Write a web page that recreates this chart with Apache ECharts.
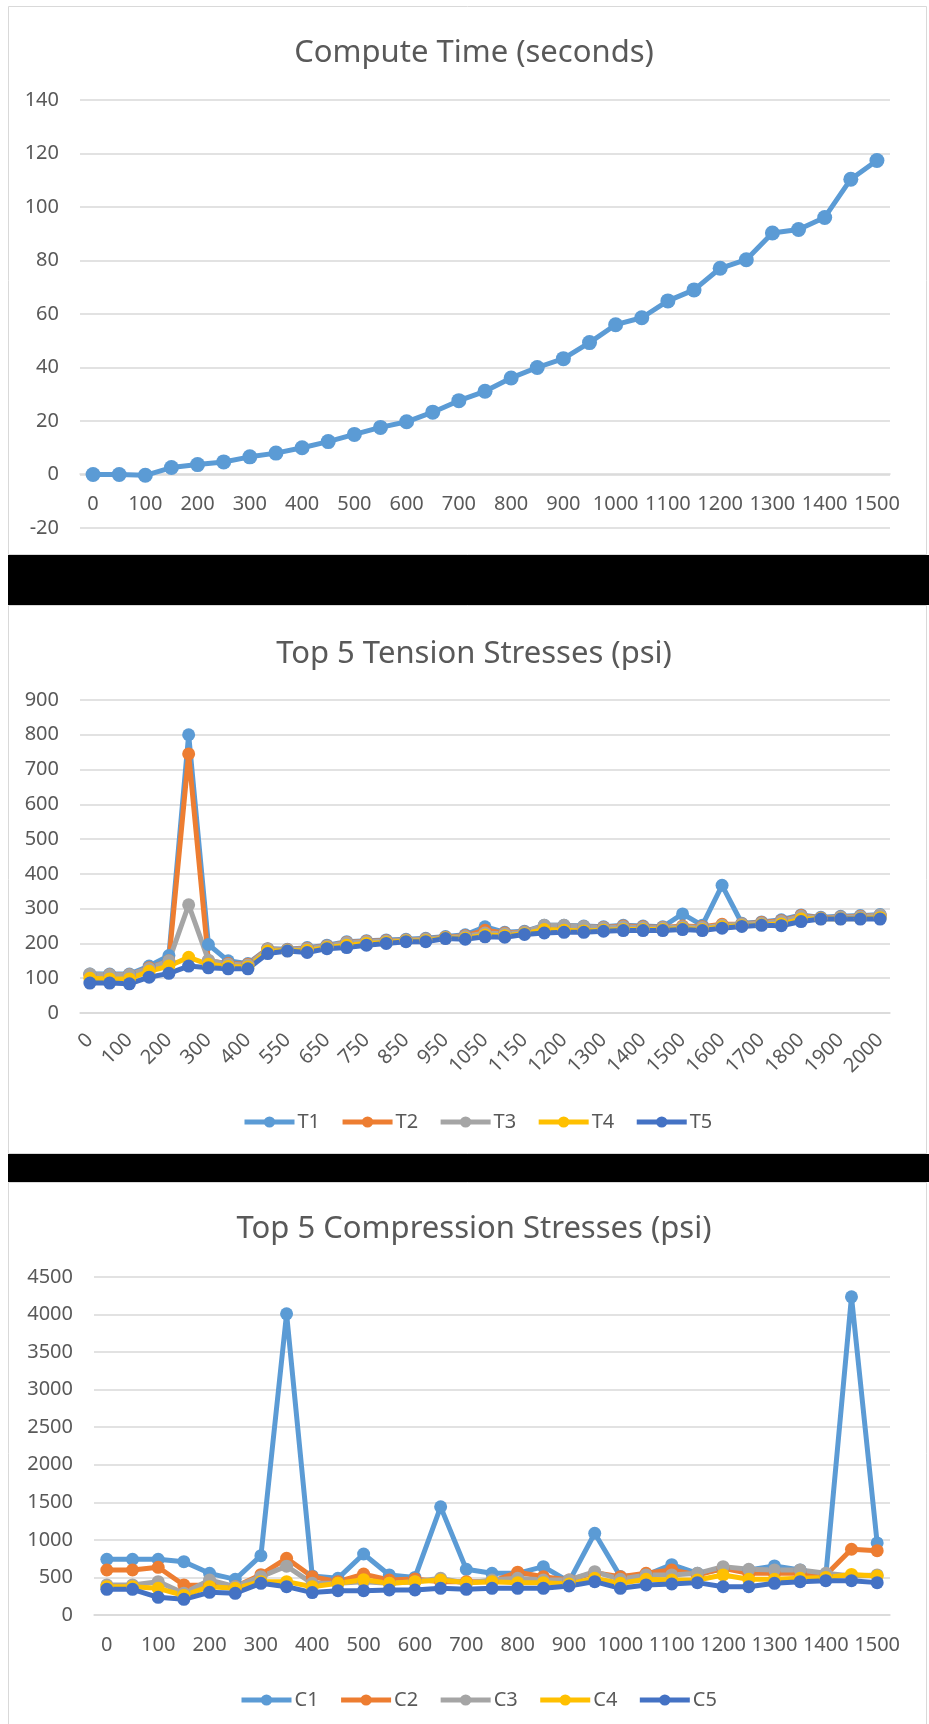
<!DOCTYPE html>
<html>
<head>
<meta charset="utf-8">
<script src="https://cdn.jsdelivr.net/npm/echarts@6.0.0/dist/echarts.min.js"></script>
<style>
  html, body { margin: 0; padding: 0; background: #fff; }
  #chart { width: 929px; height: 1724px; }
</style>
</head>
<body>
<div id="chart"></div>
<script>
// --- data ---

// chart 1: compute time
const computeSteps = ['0','50','100','150','200','250','300','350','400','450','500','550','600','650','700','750',
  '800','850','900','950','1000','1050','1100','1150','1200','1250','1300','1350','1400','1450','1500']
const computeTime = [0, 0, -0.3, 2.6, 3.7, 4.7, 6.6, 8, 10, 12.3, 15, 17.6, 19.7, 23.3, 27.6, 31.1,
  36.1, 40, 43.3, 49.3, 56, 58.6, 64.9, 69, 77.1, 80.3, 90.3, 91.6, 96.1, 110.4, 117.4]

// chart 2: tension (41 steps, every other one labelled)
const tensionSteps = ['0','50','100','150','200','250','300','350','400','500','550','600','650','700','750','800',
  '850','900','950','1000','1050','1100','1150','1175','1200','1250','1300','1350','1400','1450','1500','1550',
  '1600','1650','1700','1750','1800','1850','1900','1950','2000']
const t1 = [112,112,112,135,165,800,197,150,142,185,183,188,195,205,208,210,212,215,220,225,248,232,235,252,252,250,248,252,250,248,285,252,367,258,262,268,282,275,278,280,283]
const t2 = [110,110,110,130,150,745,150,142,140,184,182,186,193,203,206,208,210,213,218,222,238,230,233,250,250,248,246,250,248,246,250,248,255,256,260,265,280,273,276,278,281]
const t3 = [112,110,110,128,150,311,152,140,138,183,181,185,192,202,205,206,209,212,217,220,230,228,232,252,252,249,245,248,246,245,248,246,252,255,258,263,278,272,275,277,282]
const t4 = [100,98,98,120,135,160,140,134,132,178,179,180,188,195,200,203,207,208,216,215,224,222,228,240,238,236,238,240,240,240,243,240,248,251,254,256,270,271,271,272,274]
const t5 = [86,86,84,103,114,135,130,127,127,171,178,174,185,188,195,200,205,205,214,212,219,218,226,230,232,232,235,237,237,237,240,237,244,249,252,251,263,270,270,270,270]

// chart 3: compression
const compressionSteps = ['0','50','100','150','200','250','300','350','400','450','500','550','600','650','700','750',
  '800','850','900','950','1000','1050','1100','1150','1200','1250','1300','1350','1400','1450','1500']
const c1 = [741,741,741,710,555,475,790,4010,520,488,812,533,500,1440,608,555,555,644,444,1088,512,533,670,555,608,600,653,600,522,4236,960]
const c2 = [599,599,635,400,395,377,537,755,510,444,545,466,480,444,444,444,570,510,466,564,510,555,600,533,622,555,555,555,533,875,857]
const c3 = [400,400,444,290,466,377,510,650,422,422,444,422,444,488,422,466,488,466,466,577,475,533,533,555,644,608,600,600,555,520,533]
const c4 = [377,377,355,260,377,355,444,444,377,422,470,422,444,466,431,444,431,431,413,488,422,475,466,466,533,475,475,488,500,540,520]
const c5 = [342,342,235,209,302,289,422,377,298,324,324,333,333,355,342,355,355,355,386,444,355,400,413,431,377,377,422,444,457,457,431]

const font = 'Noto Sans'
const textColor = '#595959'
const gridColor = '#D9D9D9'
const colors = ['#5B9BD5', '#ED7D31', '#A5A5A5', '#FFC000', '#4472C4']

const labelStyle = { color: textColor, fontFamily: font, fontSize: 20 }

const lineSeries = (name, data, idx, color, size) => ({
  name,
  type: 'line',
  data,
  xAxisIndex: idx,
  yAxisIndex: idx,
  symbol: 'circle',
  symbolSize: size || 13,
  lineStyle: { width: 5, color },
  itemStyle: { color },
})

const categoryAxis = (idx, data, extra, offset) => ({
  type: 'category',
  gridIndex: idx,
  data,
  boundaryGap: true,
  offset: offset || 0,
  axisLine: { show: true, onZero: false, lineStyle: { color: gridColor, width: 1.5 } },
  axisTick: { show: false },
  axisLabel: Object.assign({ interval: 1, margin: 20 }, labelStyle, extra),
})

const valueAxis = (idx, min, max, interval) => ({
  type: 'value',
  gridIndex: idx,
  min, max, interval,
  axisLine: { show: false },
  axisTick: { show: false },
  axisLabel: Object.assign({ margin: 21, formatter: v => String(v) }, labelStyle),
  splitLine: { lineStyle: { color: gridColor, width: 1.5 } },
})

const titleStyle = { color: textColor, fontFamily: font, fontSize: 31, fontWeight: 'normal' }

const legendBase = {
  itemWidth: 50,
  itemHeight: 14,
  itemGap: 20,
  lineStyle: { width: 5 },
  textStyle: Object.assign({}, labelStyle, { padding: [0, 0, 0, -2] }),
}

const chart = echarts.init(document.getElementById('chart'))

chart.setOption({
  animation: false,
  backgroundColor: '#fff',
  title: [
    { text: 'Compute Time (seconds)', left: 469, top: 33, textAlign: 'center', textStyle: titleStyle },
    { text: 'Top 5 Tension Stresses (psi)', left: 469, top: 634, textAlign: 'center', textStyle: titleStyle },
    { text: 'Top 5 Compression Stresses (psi)', left: 469, top: 1209, textAlign: 'center', textStyle: titleStyle },
  ],
  legend: [
    Object.assign({ data: ['T1', 'T2', 'T3', 'T4', 'T5'], left: 237, top: 1107 }, legendBase),
    Object.assign({ data: ['C1', 'C2', 'C3', 'C4', 'C5'], left: 234, top: 1685 }, legendBase),
  ],
  grid: [
    { left: 80, top: 100, width: 810, height: 428 },
    { left: 80, top: 700, width: 810, height: 313 },
    { left: 94, top: 1277, width: 796, height: 338 },
  ],
  xAxis: [
    // compute chart: axis sits on the 0 line, one step above the -20 bottom
    categoryAxis(0, computeSteps, {}, -54),
    categoryAxis(1, tensionSteps, { rotate: 45, margin: 24 }),
    categoryAxis(2, compressionSteps),
  ],
  yAxis: [
    valueAxis(0, -20, 140, 20),
    valueAxis(1, 0, 900, 100),
    valueAxis(2, 0, 4500, 500),
  ],
  // panel frames and the black strips between the screenshots
  graphic: [
    { type: 'rect', shape: { x: 8.5, y: 6.5, width: 918, height: 548 }, style: { fill: null, stroke: gridColor, lineWidth: 1 } },
    { type: 'rect', shape: { x: 8.5, y: 605.5, width: 918, height: 548 }, style: { fill: null, stroke: gridColor, lineWidth: 1 } },
    { type: 'rect', shape: { x: 8.5, y: 1182.5, width: 918, height: 560 }, style: { fill: null, stroke: gridColor, lineWidth: 1 } },
    { type: 'rect', shape: { x: 8, y: 555, width: 921, height: 50 }, style: { fill: '#000' } },
    { type: 'rect', shape: { x: 8, y: 1154, width: 921, height: 28 }, style: { fill: '#000' } },
  ],
  series: [
    lineSeries('Compute', computeTime, 0, colors[0], 15),
    lineSeries('T1', t1, 1, colors[0]),
    lineSeries('T2', t2, 1, colors[1]),
    lineSeries('T3', t3, 1, colors[2]),
    lineSeries('T4', t4, 1, colors[3]),
    lineSeries('T5', t5, 1, colors[4]),
    lineSeries('C1', c1, 2, colors[0]),
    lineSeries('C2', c2, 2, colors[1]),
    lineSeries('C3', c3, 2, colors[2]),
    lineSeries('C4', c4, 2, colors[3]),
    lineSeries('C5', c5, 2, colors[4]),
  ],
})
</script>
</body>
</html>
